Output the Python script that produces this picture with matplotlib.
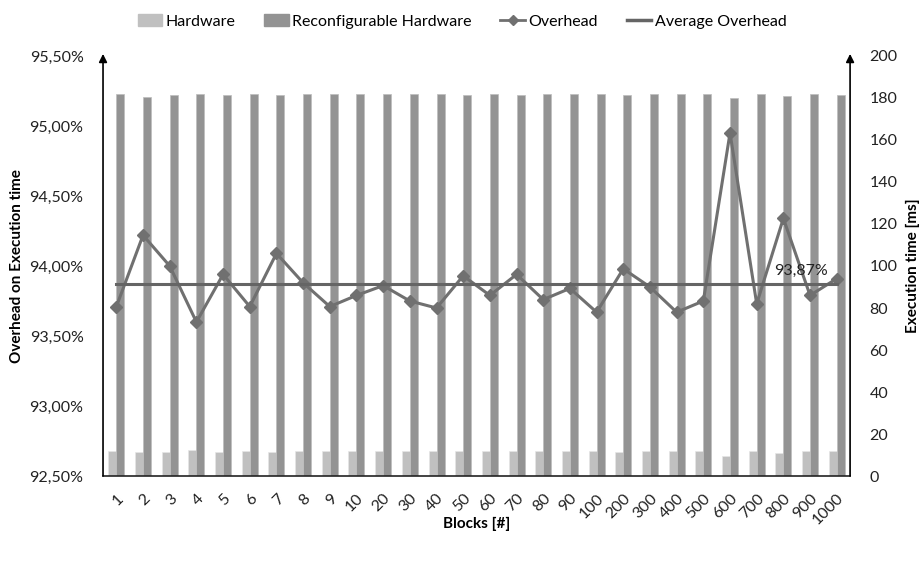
import numpy as np
import matplotlib
matplotlib.use("Agg")
import matplotlib.pyplot as plt
from matplotlib.ticker import FuncFormatter, MultipleLocator
from matplotlib.lines import Line2D
from matplotlib.patches import Patch

plt.rcParams['font.family'] = ['Lato', 'DejaVu Sans']

# ---------------- data ----------------
blocks = ["1", "2", "3", "4", "5", "6", "7", "8", "9", "10", "20", "30", "40", "50",
          "60", "70", "80", "90", "100", "200", "300", "400", "500", "600", "700",
          "800", "900", "1000"]

hardware_ms = [11.8, 11.4, 11.4, 12.6, 11.4, 11.8, 11.4, 11.8, 11.8, 11.8, 11.8, 11.8,
               11.8, 11.8, 11.8, 11.8, 11.8, 11.8, 11.8, 11.4, 11.8, 11.8, 11.8, 9.5,
               11.8, 10.8, 11.8, 11.8]

reconf_ms = [182.0, 180.6, 181.4, 182.0, 181.4, 182.0, 181.4, 182.0, 182.0, 182.0,
             182.0, 182.0, 182.0, 181.4, 182.0, 181.4, 182.0, 182.0, 182.0, 181.4,
             182.0, 182.0, 182.0, 179.8, 182.0, 180.8, 182.0, 181.4]

overhead_pct = [93.71, 94.22, 94.00, 93.60, 93.94, 93.71, 94.09, 93.88, 93.71, 93.79,
                93.86, 93.75, 93.70, 93.93, 93.79, 93.94, 93.76, 93.84, 93.67, 93.98,
                93.85, 93.67, 93.75, 94.95, 93.73, 94.34, 93.79, 93.91]

avg_overhead = 93.87

# ---------------- plot ----------------
fig = plt.figure(figsize=(9.24, 5.61), dpi=100)
ax = fig.add_axes([0.1115, 0.1515, 0.8085, 0.7487])   # execution time (bars)
ax2 = ax.twinx()                                        # overhead (line)

x = np.arange(len(blocks))
w = 0.3
c_hw = "#c0c0c0"
c_rc = "#939393"
c_line = "#707070"
c_avg = "#656565"
fs = 11.5

ax.bar(x - w / 2, hardware_ms, w, color=c_hw, edgecolor="#e6e6e6", linewidth=0.5)
ax.bar(x + w / 2, reconf_ms, w, color=c_rc, edgecolor="#bdbdbd", linewidth=0.5)

ax2.plot(x, overhead_pct, color=c_line, linewidth=2.2, marker="D", markersize=6,
         markerfacecolor=c_line, markeredgecolor=c_line)
ax2.plot([x[0], x[-1]], [avg_overhead, avg_overhead], color=c_avg, linewidth=2.2)
ax2.text(x[-1] - 0.35, avg_overhead + 0.045, f"{avg_overhead:.2f}%".replace(".", ","),
         ha="right", va="bottom", fontsize=fs, color="#222222")

ax.set_xlim(-0.5, len(blocks) - 0.5)
ax.set_ylim(0, 200)
ax2.set_ylim(92.5, 95.5)

# swap sides: overhead on the left, ms on the right
ax.yaxis.tick_right()
ax.yaxis.set_label_position("right")
ax2.yaxis.tick_left()
ax2.yaxis.set_label_position("left")

ax.yaxis.set_major_locator(MultipleLocator(20))
ax2.yaxis.set_major_locator(MultipleLocator(0.5))
ax2.yaxis.set_major_formatter(FuncFormatter(lambda v, p: f"{v:.2f}%".replace(".", ",")))

ax.set_xticks(x)
ax.set_xticklabels(blocks, rotation=45, ha="right", rotation_mode="anchor", fontsize=fs)
for a in (ax, ax2):
    a.tick_params(axis="both", length=0, labelsize=fs, colors="#222222")
ax.tick_params(axis="y", pad=14)
ax2.tick_params(axis="y", pad=14)
ax.tick_params(axis="x", pad=11)

for a in (ax, ax2):
    for s in ("top", "left", "right"):
        a.spines[s].set_visible(False)
ax2.spines["bottom"].set_visible(False)
ax.spines["bottom"].set_color("#222222")
ax.spines["bottom"].set_linewidth(1.2)

# arrowed vertical axes
for xf in (0.0, 1.0):
    ax2.annotate("", xy=(xf, 1.005), xytext=(xf, 0.0), xycoords="axes fraction",
                 arrowprops=dict(arrowstyle="-|>", color="black", lw=1.2,
                                 mutation_scale=12, shrinkA=0, shrinkB=0))

ax.set_xlabel("Blocks [#]", fontweight="bold", fontsize=11)
ax.xaxis.set_label_coords(0.5, -0.097)
ax.set_ylabel("Execution time [ms]", fontweight="bold", fontsize=11, labelpad=6)
ax2.set_ylabel("Overhead on Execution time", fontweight="bold", fontsize=11, labelpad=4)

handles = [Patch(color=c_hw, label="Hardware"),
           Patch(color=c_rc, label="Reconfigurable Hardware"),
           Line2D([0], [0], color=c_line, lw=2, marker="D", markersize=5, label="Overhead"),
           Line2D([0], [0], color=c_avg, lw=2.5, label="Average Overhead")]
fig.legend(handles=handles, loc="upper center", bbox_to_anchor=(0.5, 1.0), ncol=4,
           frameon=False, fontsize=fs, handlelength=1.55, handleheight=0.7,
           handletextpad=0.2, columnspacing=1.8)

fig.savefig("out.png", dpi=100)
